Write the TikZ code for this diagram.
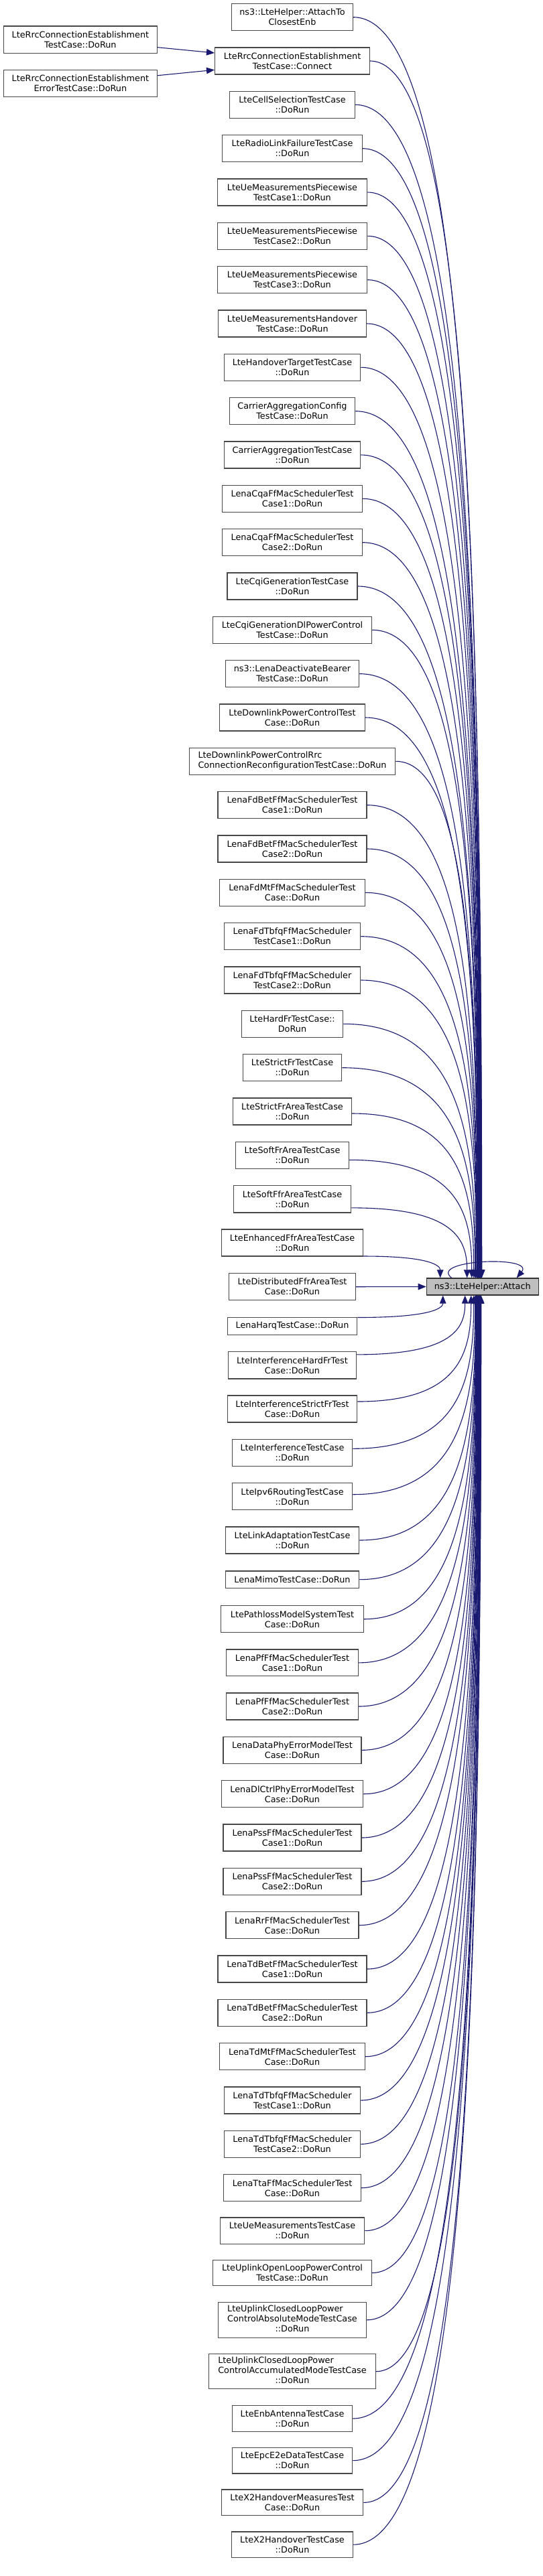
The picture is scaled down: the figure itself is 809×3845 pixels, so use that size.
\documentclass[tikz,border=0pt]{standalone}
\usepackage{fontspec}
\setmainfont{DejaVu Sans}
\usepackage{xcolor}
\usepackage{tikz}
\usetikzlibrary{arrows.meta,calc}

\definecolor{edgeblue}{HTML}{191970}
\definecolor{boxline}{HTML}{484848}
\definecolor{curfill}{HTML}{BFBFBF}

\begin{document}
\begin{tikzpicture}[x=1pt, y=-1pt,
    fn/.style={draw=boxline, fill=white, line width=1.2pt, inner sep=0pt, align=center,
      font=\fontsize{12.8}{15}\selectfont},
    fncur/.style={fn, draw=black!80, fill=curfill},
    call/.style={draw=edgeblue, line width=1.1pt, -{Triangle[length=12pt,width=9.5pt]}},
    callcurve/.style={to path={let \p1=(\tikztostart), \p2=(\tikztotarget) in
      .. controls ({\x1+0.9*(\x2-\x1)},\y1) and (\x2,{\y2+0.54*(\y1-\y2)}) .. (\tikztotarget)}}]

        % Page
        \fill[white] (0,0) rectangle (809,3845);
        \useasboundingbox (0,0) rectangle (809,3845);

        % Called function
        \node[fncur, minimum width=167pt, minimum height=25pt] (attach) at (719.8,1920.5) {ns3::LteHelper::Attach};

        % Callers of Connect
        \node[fn, minimum width=229.3pt, minimum height=40.3pt] (rrcEst) at (119.9,59.2)
          {LteRrcConnectionEstablishment\\TestCase::DoRun};
        \node[fn, minimum width=229.3pt, minimum height=40.3pt] (rrcEstErr) at (119.9,124.5)
          {LteRrcConnectionEstablishment\\ErrorTestCase::DoRun};

        % Caller column (index/top/bottom/left edge/label)
        \foreach \n/\yt/\yb/\xl/\lbl in {
          0/5.7/45.7/345.4/{ns3::LteHelper::AttachTo\\ClosestEnb},
          1/71/111/320.6/{LteRrcConnectionEstablishment\\TestCase::Connect},
          2/136.3/176.3/342.8/{LteCellSelectionTestCase\\::DoRun},
          3/201.7/241.7/331.7/{LteRadioLinkFailureTestCase\\::DoRun},
          4/267/307/324.3/{LteUeMeasurementsPiecewise\\TestCase1::DoRun},
          5/332.3/372.3/324.3/{LteUeMeasurementsPiecewise\\TestCase2::DoRun},
          6/397.7/437.7/324.3/{LteUeMeasurementsPiecewise\\TestCase3::DoRun},
          7/463/503/325.7/{LteUeMeasurementsHandover\\TestCase::DoRun},
          8/528.3/568.3/334.3/{LteHandoverTargetTestCase\\::DoRun},
          9/593.7/633.7/342.3/{CarrierAggregationConfig\\TestCase::DoRun},
          10/659/699/334.3/{CarrierAggregationTestCase\\::DoRun},
          11/724.3/764.3/331.7/{LenaCqaFfMacSchedulerTest\\Case1::DoRun},
          12/789.7/829.7/331.7/{LenaCqaFfMacSchedulerTest\\Case2::DoRun},
          13/855/895/339/{LteCqiGenerationTestCase\\::DoRun},
          14/920.3/960.3/317.7/{LteCqiGenerationDlPowerControl\\TestCase::DoRun},
          15/985.7/1025.7/336.3/{ns3::LenaDeactivateBearer\\TestCase::DoRun},
          16/1051/1091/327.7/{LteDownlinkPowerControlTest\\Case::DoRun},
          17/1116.3/1156.3/282.3/{\begin{tabular}{@{}l@{}}LteDownlinkPowerControlRrc\\ConnectionReconfigurationTestCase::DoRun\end{tabular}},
          18/1181.7/1221.7/325/{LenaFdBetFfMacSchedulerTest\\Case1::DoRun},
          19/1247/1287/325/{LenaFdBetFfMacSchedulerTest\\Case2::DoRun},
          20/1312.3/1352.3/327.7/{LenaFdMtFfMacSchedulerTest\\Case::DoRun},
          21/1377.7/1417.7/334.3/{LenaFdTbfqFfMacScheduler\\TestCase1::DoRun},
          22/1443/1483/334.3/{LenaFdTbfqFfMacScheduler\\TestCase2::DoRun},
          23/1508.3/1548.3/360.3/{LteHardFrTestCase::\\DoRun},
          24/1573.7/1613.7/362.3/{LteStrictFrTestCase\\::DoRun},
          25/1639/1679/347.7/{LteStrictFrAreaTestCase\\::DoRun},
          26/1704.3/1744.3/351.7/{LteSoftFrAreaTestCase\\::DoRun},
          27/1769.7/1810/348.3/{LteSoftFfrAreaTestCase\\::DoRun},
          28/1835/1875/330.6/{LteEnhancedFfrAreaTestCase\\::DoRun},
          29/1900.7/1940.7/341.6/{LteDistributedFfrAreaTest\\Case::DoRun},
          30/1966.7/1992.3/339.2/{LenaHarqTestCase::DoRun},
          31/2017.7/2058/340.6/{LteInterferenceHardFrTest\\Case::DoRun},
          32/2083/2123/339.2/{LteInterferenceStrictFrTest\\Case::DoRun},
          33/2148.3/2188.3/346.3/{LteInterferenceTestCase\\::DoRun},
          34/2213.7/2253.7/346.3/{LteIpv6RoutingTestCase\\::DoRun},
          35/2279/2319/336.3/{LteLinkAdaptationTestCase\\::DoRun},
          36/2345/2370.3/336.3/{LenaMimoTestCase::DoRun},
          37/2396.7/2436.7/329.7/{LtePathlossModelSystemTest\\Case::DoRun},
          38/2462/2501.7/337.7/{LenaPfFfMacSchedulerTest\\Case1::DoRun},
          39/2527/2567/337.7/{LenaPfFfMacSchedulerTest\\Case2::DoRun},
          40/2592.3/2632.3/333/{LenaDataPhyErrorModelTest\\Case::DoRun},
          41/2657.7/2697.7/330.3/{LenaDlCtrlPhyErrorModelTest\\Case::DoRun},
          42/2723/2763/333/{LenaPssFfMacSchedulerTest\\Case1::DoRun},
          43/2788.3/2828.3/333/{LenaPssFfMacSchedulerTest\\Case2::DoRun},
          44/2853.7/2893.7/337/{LenaRrFfMacSchedulerTest\\Case::DoRun},
          45/2919/2959/325/{LenaTdBetFfMacSchedulerTest\\Case1::DoRun},
          46/2984.3/3024.3/325/{LenaTdBetFfMacSchedulerTest\\Case2::DoRun},
          47/3049.7/3089.7/327.7/{LenaTdMtFfMacSchedulerTest\\Case::DoRun},
          48/3115/3155/334.3/{LenaTdTbfqFfMacScheduler\\TestCase1::DoRun},
          49/3180.3/3220.3/334.3/{LenaTdTbfqFfMacScheduler\\TestCase2::DoRun},
          50/3245.7/3285.7/333.7/{LenaTtaFfMacSchedulerTest\\Case::DoRun},
          51/3310/3349.3/328.3/{LteUeMeasurementsTestCase\\::DoRun},
          52/3373.3/3411.7/317.7/{LteUplinkOpenLoopPowerControl\\TestCase::DoRun},
          53/3436.3/3489.3/325.7/{\begin{tabular}{@{}l@{}}LteUplinkClosedLoopPower\\ControlAbsoluteModeTestCase\\\multicolumn{1}{@{}c@{}}{::DoRun}\end{tabular}},
          54/3513.7/3565.7/311.7/{\begin{tabular}{@{}l@{}}LteUplinkClosedLoopPower\\ControlAccumulatedModeTestCase\\\multicolumn{1}{@{}c@{}}{::DoRun}\end{tabular}},
          55/3590.7/3629.3/346.3/{LteEnbAntennaTestCase\\::DoRun},
          56/3653.3/3692/346.3/{LteEpcE2eDataTestCase\\::DoRun},
          57/3716/3754.7/330.3/{LteX2HandoverMeasuresTest\\Case::DoRun},
          58/3779/3817.3/345.7/{LteX2HandoverTestCase\\::DoRun}} {
          \pgfmathsetmacro{\yc}{(\yt+\yb)/2}
          \pgfmathsetmacro{\wdt}{2*(436-\xl)}
          \pgfmathsetmacro{\hgt}{\yb-\yt}
          \node[fn, minimum width=\wdt pt, minimum height=\hgt pt] (caller\n) at (436,\yc) {\lbl};
        }

        % Calls into Connect
        \draw[call] ([yshift=-11.5pt]rrcEst.east) -- ([yshift=12pt]caller1.west);
        \draw[call] ([yshift=11.8pt]rrcEstErr.east) -- ([yshift=-13.3pt]caller1.west);

        % Calls arriving from above
        \foreach \n in {0,...,22} {
          \pgfmathsetmacro{\dx}{83-0.35*\n}
          \draw[call] (caller\n.east) to[callcurve] ([xshift=\dx pt]attach.north west);
        }
        \foreach \n/\sy/\dx in {23/0/74, 24/0/73, 25/-3/71, 26/-7/68, 27/-13/61, 28/-20/21} {
          \draw[call] ([yshift=\sy pt]caller\n.east) to[callcurve] ([xshift=\dx pt]attach.north west);
        }

        % Straight call
        \draw[call] (caller29.east) -- (attach.west);

        % Calls arriving from below
        \foreach \n/\sy/\dx in {30/13/25, 31/16/58, 32/11/67, 33/6/71, 34/3/73} {
          \draw[call] ([yshift=\sy pt]caller\n.east) to[callcurve] ([xshift=\dx pt]attach.south west);
        }
        \foreach \n in {35,...,58} {
          \pgfmathsetmacro{\dx}{74+0.35*(\n-35)}
          \draw[call] (caller\n.east) to[callcurve] ([xshift=\dx pt]attach.south west);
        }

        % Recursive call
        \draw[call] ([xshift=38pt]attach.north west) .. controls +(-35,-27) and +(28,-34) .. ([xshift=135pt]attach.north west);
\end{tikzpicture}
\end{document}
